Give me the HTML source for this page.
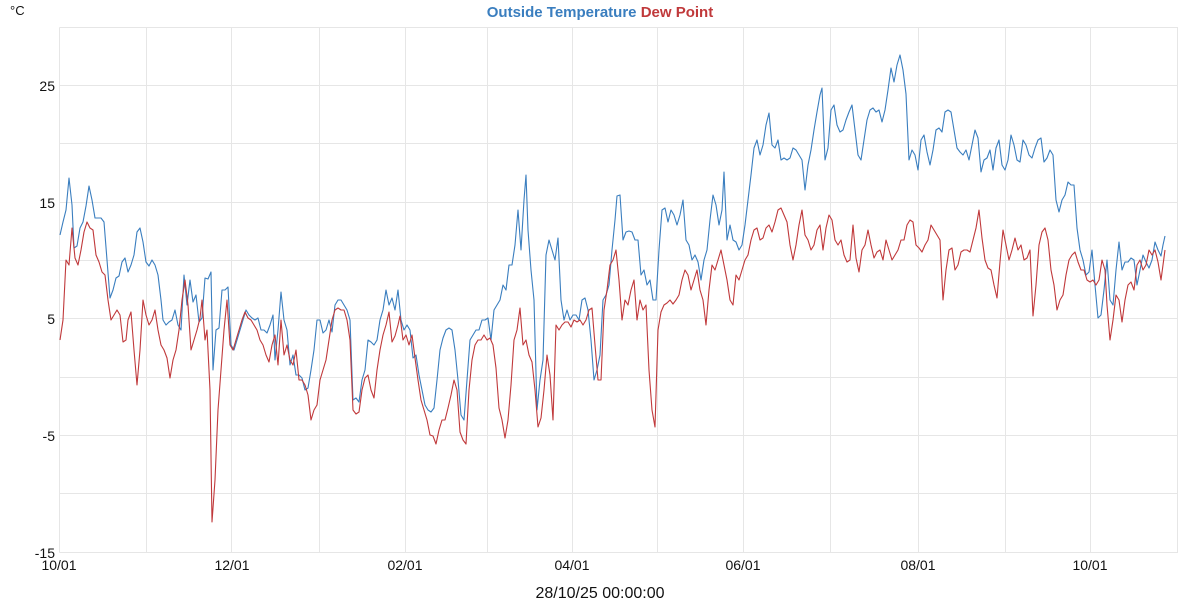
<!DOCTYPE html>
<html><head><meta charset="utf-8"><style>
body{margin:0;background:#fff;}
svg{display:block;font-family:"Liberation Sans",sans-serif;}
</style></head><body>
<svg width="1200" height="600" viewBox="0 0 1200 600">
<rect width="1200" height="600" fill="#fff"/>
<g stroke="#e6e6e6" stroke-width="1">
<line x1="59.5" y1="27.5" x2="1178" y2="27.5"/>
<line x1="59.5" y1="85.5" x2="1178" y2="85.5"/>
<line x1="59.5" y1="143.5" x2="1178" y2="143.5"/>
<line x1="59.5" y1="202.5" x2="1178" y2="202.5"/>
<line x1="59.5" y1="260.5" x2="1178" y2="260.5"/>
<line x1="59.5" y1="318.5" x2="1178" y2="318.5"/>
<line x1="59.5" y1="377.5" x2="1178" y2="377.5"/>
<line x1="59.5" y1="435.5" x2="1178" y2="435.5"/>
<line x1="59.5" y1="493.5" x2="1178" y2="493.5"/>
<line x1="59.5" y1="552.5" x2="1178" y2="552.5"/>
<line x1="59.5" y1="27.5" x2="59.5" y2="552.5"/>
<line x1="146.5" y1="27.5" x2="146.5" y2="552.5"/>
<line x1="231.5" y1="27.5" x2="231.5" y2="552.5"/>
<line x1="319.5" y1="27.5" x2="319.5" y2="552.5"/>
<line x1="405.5" y1="27.5" x2="405.5" y2="552.5"/>
<line x1="487.5" y1="27.5" x2="487.5" y2="552.5"/>
<line x1="572.5" y1="27.5" x2="572.5" y2="552.5"/>
<line x1="657.5" y1="27.5" x2="657.5" y2="552.5"/>
<line x1="743.5" y1="27.5" x2="743.5" y2="552.5"/>
<line x1="830.5" y1="27.5" x2="830.5" y2="552.5"/>
<line x1="918.5" y1="27.5" x2="918.5" y2="552.5"/>
<line x1="1005.5" y1="27.5" x2="1005.5" y2="552.5"/>
<line x1="1090.5" y1="27.5" x2="1090.5" y2="552.5"/>
<line x1="1177.5" y1="27.5" x2="1177.5" y2="552.5"/>
</g>
<g font-size="14" fill="#111" text-anchor="end">
<text x="55" y="91">25</text>
<text x="55" y="208">15</text>
<text x="55" y="324">5</text>
<text x="55" y="441">-5</text>
<text x="55" y="558">-15</text>
</g>
<text x="10" y="15" font-size="13" fill="#111">°C</text>
<g font-size="14" fill="#111" text-anchor="middle">
<text x="59" y="570">10/01</text>
<text x="232" y="570">12/01</text>
<text x="405" y="570">02/01</text>
<text x="572" y="570">04/01</text>
<text x="743" y="570">06/01</text>
<text x="918" y="570">08/01</text>
<text x="1090" y="570">10/01</text>
</g>
<text x="600" y="598" font-size="16" fill="#111" text-anchor="middle">28/10/25 00:00:00</text>
<text x="600" y="17" font-size="15" font-weight="bold" text-anchor="middle"><tspan fill="#3a7ebf">Outside Temperature</tspan> <tspan fill="#c0393b">Dew Point</tspan></text>
<polyline fill="none" stroke="#3a7ebf" stroke-width="1.1" stroke-linejoin="round" points="60,235 63,222 66,210 69,178 72,205 74,248 77,246 80,228 83,222 86,206 89,186 92,200 95,218 98,218 101,218 104,222 107,260 110,298 113,290 116,278 119,276 122,262 125,258 128,272 131,265 134,255 137,232 140,228 143,242 146,262 149,266 152,260 155,265 158,275 161,300 163,320 166,325 169,322 172,320 175,310 178,325 181,330 184,275 187,305 190,280 193,302 196,295 199,322 202,318 205,278 208,279 211,272 213,370 216,330 219,328 222,290 225,290 228,287 231,345 234,350 237,340 240,330 243,320 246,310 249,315 252,318 255,320 258,318 261,330 264,330 267,333 270,325 273,315 275,360 278,330 281,292 284,320 287,330 290,365 293,355 296,375 299,375 302,378 305,390 308,388 311,370 314,350 317,320 320,320 323,333 326,330 329,320 332,332 335,305 338,300 341,300 344,305 347,310 350,320 353,400 356,398 359,402 362,380 365,370 368,340 371,342 374,345 377,340 380,320 383,310 386,290 389,305 392,298 395,310 398,290 401,320 404,330 407,325 410,330 413,358 416,355 419,375 422,390 425,405 428,410 431,412 434,408 437,380 440,350 443,338 446,330 449,328 452,330 455,350 458,380 461,415 464,420 467,380 470,340 473,335 476,330 479,330 482,320 485,320 488,318 491,340 494,310 497,305 500,300 503,285 506,290 509,265 512,265 515,245 518,210 521,250 524,200 526,175 528,230 531,270 534,300 537,410 540,380 543,360 546,255 549,240 552,250 555,260 558,238 561,300 564,320 567,310 570,320 573,315 576,315 579,320 582,300 585,298 588,310 591,340 594,380 597,370 600,355 603,300 606,295 609,285 612,250 615,220 617,196 620,195 623,240 626,232 629,231 632,232 635,240 638,240 641,275 644,270 647,285 650,280 653,300 656,300 659,250 662,210 665,208 668,222 671,210 674,215 677,225 680,215 683,200 686,240 689,245 692,260 695,255 698,262 701,280 704,260 707,250 710,220 713,195 716,205 719,225 722,210 724,172 727,240 730,225 733,240 736,242 739,250 742,245 745,225 748,200 751,175 754,148 757,140 760,155 763,145 766,125 769,113 772,145 775,148 778,140 781,160 784,158 787,160 790,158 793,148 796,150 799,155 802,160 805,190 808,165 811,150 814,130 817,112 820,95 822,88 825,160 828,148 831,110 834,105 837,125 840,132 843,130 846,120 849,112 852,105 855,130 858,155 861,160 864,140 867,120 870,110 873,108 876,112 879,110 882,122 885,110 888,90 891,68 894,82 897,65 900,55 903,70 906,94 909,160 912,150 915,155 918,170 921,140 924,135 927,152 930,165 933,150 936,130 939,128 942,132 945,112 948,110 951,112 954,130 957,148 960,152 963,155 966,150 969,160 972,145 975,130 978,138 981,172 984,160 987,158 990,150 993,170 996,148 999,140 1002,165 1005,170 1008,160 1011,135 1014,145 1017,160 1020,162 1023,140 1026,145 1029,155 1032,158 1035,148 1038,140 1041,138 1044,162 1047,158 1050,150 1053,155 1056,200 1059,212 1062,200 1065,195 1068,182 1071,185 1074,185 1077,228 1080,250 1083,260 1086,275 1089,272 1092,250 1095,285 1098,318 1101,315 1104,290 1107,260 1110,300 1113,305 1116,270 1119,242 1122,270 1125,262 1128,262 1131,258 1134,260 1137,285 1140,270 1143,255 1146,262 1149,268 1152,260 1155,242 1158,250 1161,256 1163,245 1165,236"/>
<polyline fill="none" stroke="#c0393b" stroke-width="1.1" stroke-linejoin="round" points="60,340 63,320 66,260 69,265 72,228 75,258 78,265 81,250 84,232 87,222 90,228 93,230 96,255 99,262 102,272 105,275 108,300 111,320 114,315 117,310 120,315 123,342 126,340 128,320 131,312 134,350 137,385 140,350 143,300 146,315 149,325 152,320 155,310 158,330 161,345 164,350 167,358 170,378 173,360 176,350 179,330 182,300 185,280 188,305 191,350 194,340 197,330 200,318 202,300 205,340 207,330 210,390 212,522 215,480 218,410 221,370 224,330 227,300 230,345 233,350 236,340 239,330 242,320 245,312 248,318 251,320 254,325 257,330 260,340 263,345 266,355 269,362 272,345 275,335 278,365 281,320 284,355 287,345 290,360 293,365 296,350 299,380 302,380 305,385 308,395 311,420 314,410 317,405 320,380 323,370 326,360 329,340 332,320 335,310 338,308 341,310 344,310 347,320 350,340 353,410 356,414 359,412 362,390 365,378 368,375 371,390 374,398 377,370 380,350 383,335 386,325 389,312 392,342 395,336 398,325 400,316 403,340 406,335 409,345 412,335 415,358 418,380 421,400 424,410 427,420 430,435 433,436 436,444 439,430 442,420 445,420 448,408 451,395 454,380 457,390 460,432 463,440 466,444 469,390 472,360 475,345 478,340 481,340 484,335 487,340 490,338 493,345 496,368 499,408 502,420 505,438 508,420 511,385 514,340 517,330 520,308 523,345 526,340 529,355 532,362 535,390 538,427 541,418 544,390 547,355 550,375 553,420 556,325 559,330 562,325 565,322 568,322 571,327 574,320 577,322 580,320 583,325 586,320 589,310 592,308 595,345 598,380 601,380 604,310 607,290 610,265 613,260 616,250 619,280 622,320 625,300 628,305 631,290 634,280 637,320 640,300 643,310 646,305 649,370 652,410 655,427 658,330 661,312 664,305 667,303 670,300 673,304 676,300 679,295 682,280 685,270 688,275 691,290 694,280 697,270 700,290 703,300 706,325 709,290 712,265 715,270 718,260 721,250 724,265 727,280 730,300 733,305 736,275 739,280 742,270 745,260 748,255 751,240 754,230 757,228 760,240 763,238 766,228 769,225 772,232 775,222 778,210 781,208 784,215 787,222 790,245 793,260 796,245 799,225 802,210 805,235 808,240 811,250 814,245 817,230 820,225 823,250 826,228 829,215 832,220 835,240 838,245 841,240 844,255 847,262 850,260 853,225 856,258 859,272 862,250 865,245 868,230 871,245 874,258 877,252 880,250 883,260 886,240 889,250 892,260 895,255 898,250 901,240 904,240 907,225 910,220 913,222 916,245 919,248 922,252 925,245 928,240 931,225 934,230 937,235 940,240 943,300 946,270 949,250 952,248 955,270 958,265 961,252 964,250 967,250 970,252 973,240 976,228 979,210 982,238 985,260 988,268 991,270 994,285 997,298 1000,262 1003,230 1006,245 1009,260 1012,250 1015,238 1018,250 1021,245 1024,260 1027,258 1030,250 1033,316 1036,285 1039,245 1042,232 1045,228 1048,240 1051,270 1054,285 1057,310 1060,300 1063,295 1066,275 1069,260 1072,255 1075,252 1078,262 1081,270 1084,270 1087,280 1090,282 1093,280 1096,285 1099,280 1102,260 1105,270 1107,305 1110,340 1113,320 1116,295 1119,300 1122,322 1125,300 1128,285 1131,282 1134,290 1137,265 1140,260 1143,270 1146,265 1149,250 1152,255 1155,250 1158,262 1161,280 1165,250"/>
</svg>
</body></html>
